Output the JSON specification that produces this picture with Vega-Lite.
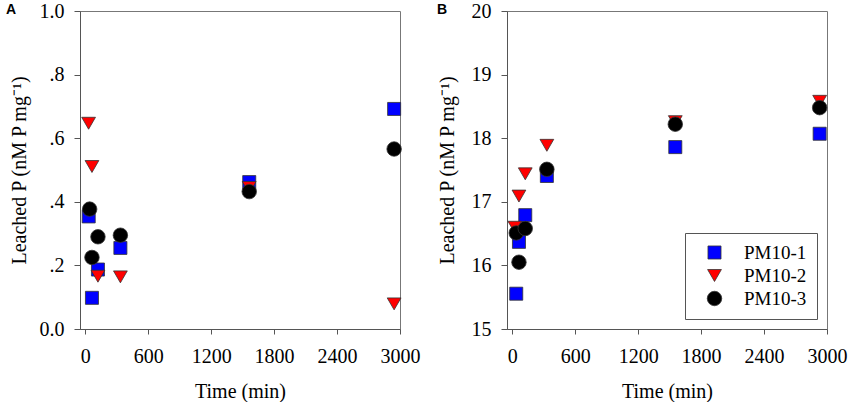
{
  "$schema": "https://vega.github.io/schema/vega-lite/v6.json",
  "background": "white",
  "padding": {"left": 5, "top": 0, "right": 0, "bottom": 0},
  "data": {
    "values": [
      {"panel": "A", "series": "PM10-1", "time": 33, "value": 0.354},
      {"panel": "A", "series": "PM10-1", "time": 64, "value": 0.098},
      {"panel": "A", "series": "PM10-1", "time": 121, "value": 0.187},
      {"panel": "A", "series": "PM10-1", "time": 335, "value": 0.255},
      {"panel": "A", "series": "PM10-1", "time": 1563, "value": 0.462},
      {"panel": "A", "series": "PM10-1", "time": 2944, "value": 0.692},
      {"panel": "A", "series": "PM10-2", "time": 32, "value": 0.647},
      {"panel": "A", "series": "PM10-2", "time": 64, "value": 0.511},
      {"panel": "A", "series": "PM10-2", "time": 121, "value": 0.166},
      {"panel": "A", "series": "PM10-2", "time": 335, "value": 0.164},
      {"panel": "A", "series": "PM10-2", "time": 1563, "value": 0.445},
      {"panel": "A", "series": "PM10-2", "time": 2944, "value": 0.079},
      {"panel": "A", "series": "PM10-3", "time": 42, "value": 0.377},
      {"panel": "A", "series": "PM10-3", "time": 64, "value": 0.225},
      {"panel": "A", "series": "PM10-3", "time": 121, "value": 0.29},
      {"panel": "A", "series": "PM10-3", "time": 335, "value": 0.295},
      {"panel": "A", "series": "PM10-3", "time": 1563, "value": 0.432},
      {"panel": "A", "series": "PM10-3", "time": 2944, "value": 0.566},
      {"panel": "B", "series": "PM10-1", "time": 38, "value": 15.555},
      {"panel": "B", "series": "PM10-1", "time": 64, "value": 16.37},
      {"panel": "B", "series": "PM10-1", "time": 124, "value": 16.79},
      {"panel": "B", "series": "PM10-1", "time": 330, "value": 17.406},
      {"panel": "B", "series": "PM10-1", "time": 1554, "value": 17.86},
      {"panel": "B", "series": "PM10-1", "time": 2930, "value": 18.07},
      {"panel": "B", "series": "PM10-2", "time": 25, "value": 16.6},
      {"panel": "B", "series": "PM10-2", "time": 64, "value": 17.09},
      {"panel": "B", "series": "PM10-2", "time": 124, "value": 17.44},
      {"panel": "B", "series": "PM10-2", "time": 330, "value": 17.888},
      {"panel": "B", "series": "PM10-2", "time": 1554, "value": 18.26},
      {"panel": "B", "series": "PM10-2", "time": 2930, "value": 18.58},
      {"panel": "B", "series": "PM10-3", "time": 38, "value": 16.51},
      {"panel": "B", "series": "PM10-3", "time": 64, "value": 16.05},
      {"panel": "B", "series": "PM10-3", "time": 124, "value": 16.58},
      {"panel": "B", "series": "PM10-3", "time": 330, "value": 17.511},
      {"panel": "B", "series": "PM10-3", "time": 1554, "value": 18.22},
      {"panel": "B", "series": "PM10-3", "time": 2930, "value": 18.48}
    ]
  },
  "spacing": 107,
  "bounds": "flush",
  "resolve": {
    "scale": {"x": "independent", "y": "independent", "color": "independent", "shape": "independent", "size": "independent"},
    "legend": {"color": "independent", "shape": "independent", "size": "independent"}
  },
  "hconcat": [
    {
      "width": 320,
      "height": 318,
      "title": {"text": "A", "anchor": "start", "frame": "bounds", "offset": 0, "dy": 16, "dx": -3},
      "transform": [{"filter": "datum.panel == 'A'"}],
      "mark": {"type": "point", "filled": true, "opacity": 1, "stroke": "#333", "strokeWidth": 0.8},
      "encoding": {
        "x": {
          "field": "time",
          "type": "quantitative",
          "scale": {"domain": [-50, 3000], "nice": false, "zero": false},
          "axis": {"values": [0, 600, 1200, 1800, 2400, 3000], "format": "d", "title": "Time (min)"}
        },
        "y": {
          "field": "value",
          "type": "quantitative",
          "scale": {"domain": [0, 1], "nice": false},
          "axis": {
            "values": [0, 0.2, 0.4, 0.6, 0.8, 1],
            "labelExpr": "datum.value == 0 || datum.value == 1 ? format(datum.value, '.1f') : replace(format(datum.value, '.1f'), '0.', '.')",
            "title": "Leached P (nM P mg⁻¹)",
            "titlePadding": 10
          }
        },
        "shape": {
          "field": "series",
          "type": "nominal",
          "scale": {"domain": ["PM10-1", "PM10-2", "PM10-3"], "range": ["square", "triangle-down", "circle"]},
          "legend": null
        },
        "color": {
          "field": "series",
          "type": "nominal",
          "scale": {"domain": ["PM10-1", "PM10-2", "PM10-3"], "range": ["#0000ff", "#ff0000", "#000000"]},
          "legend": null
        },
        "size": {
          "field": "series",
          "type": "nominal",
          "scale": {"domain": ["PM10-1", "PM10-2", "PM10-3"], "range": [170, 210, 170]},
          "legend": null
        }
      }
    },
    {
      "width": 320,
      "height": 318,
      "title": {"text": "B", "anchor": "start", "frame": "bounds", "offset": 0, "dy": 16, "dx": 0},
      "transform": [{"filter": "datum.panel == 'B'"}],
      "mark": {"type": "point", "filled": true, "opacity": 1, "stroke": "#333", "strokeWidth": 0.8},
      "encoding": {
        "x": {
          "field": "time",
          "type": "quantitative",
          "scale": {"domain": [-50, 3000], "nice": false, "zero": false},
          "axis": {"values": [0, 600, 1200, 1800, 2400, 3000], "format": "d", "title": "Time (min)"}
        },
        "y": {
          "field": "value",
          "type": "quantitative",
          "scale": {"domain": [15, 20], "nice": false, "zero": false},
          "axis": {
            "values": [15, 16, 17, 18, 19, 20],
            "format": "d",
            "title": "Leached P (nM P mg⁻¹)",
            "titlePadding": 14
          }
        },
        "shape": {
          "field": "series",
          "type": "nominal",
          "scale": {"domain": ["PM10-1", "PM10-2", "PM10-3"], "range": ["square", "triangle-down", "circle"]},
          "legend": {
            "orient": "bottom-right",
            "offset": 10,
            "title": null,
            "strokeColor": "#555",
            "fillColor": "white",
            "padding": 10,
            "symbolOffset": 10,
            "labelOffset": 20,
            "symbolSize": 170,
            "symbolStrokeColor": "#333",
            "symbolStrokeWidth": 0.8,
            "labelFont": "Liberation Serif",
            "labelFontSize": 19,
            "labelColor": "black",
            "rowPadding": 3
          }
        },
        "color": {
          "field": "series",
          "type": "nominal",
          "scale": {"domain": ["PM10-1", "PM10-2", "PM10-3"], "range": ["#0000ff", "#ff0000", "#000000"]},
          "legend": {
            "orient": "bottom-right",
            "offset": 10,
            "title": null,
            "strokeColor": "#555",
            "fillColor": "white",
            "padding": 10,
            "symbolOffset": 10,
            "labelOffset": 20,
            "symbolSize": 170,
            "symbolStrokeColor": "#333",
            "symbolStrokeWidth": 0.8,
            "labelFont": "Liberation Serif",
            "labelFontSize": 19,
            "labelColor": "black",
            "rowPadding": 3
          }
        },
        "size": {
          "field": "series",
          "type": "nominal",
          "scale": {"domain": ["PM10-1", "PM10-2", "PM10-3"], "range": [170, 210, 170]},
          "legend": null
        }
      }
    }
  ],
  "config": {
    "view": {"stroke": "#777", "strokeWidth": 1},
    "title": {"font": "Liberation Sans", "fontWeight": "bold", "fontSize": 14, "color": "black"},
    "axis": {
      "grid": false,
      "domainColor": "#555",
      "tickColor": "#555",
      "labelFont": "Liberation Serif",
      "labelFontSize": 20,
      "labelColor": "black",
      "titleFont": "Liberation Serif",
      "titleFontSize": 20,
      "titleFontWeight": "normal",
      "titleColor": "black"
    },
    "axisX": {"tickSize": 5, "labelPadding": 12, "titlePadding": 15, "labelOverlap": false, "labelFlush": false},
    "axisY": {"tickSize": 6, "labelPadding": 10}
  }
}
